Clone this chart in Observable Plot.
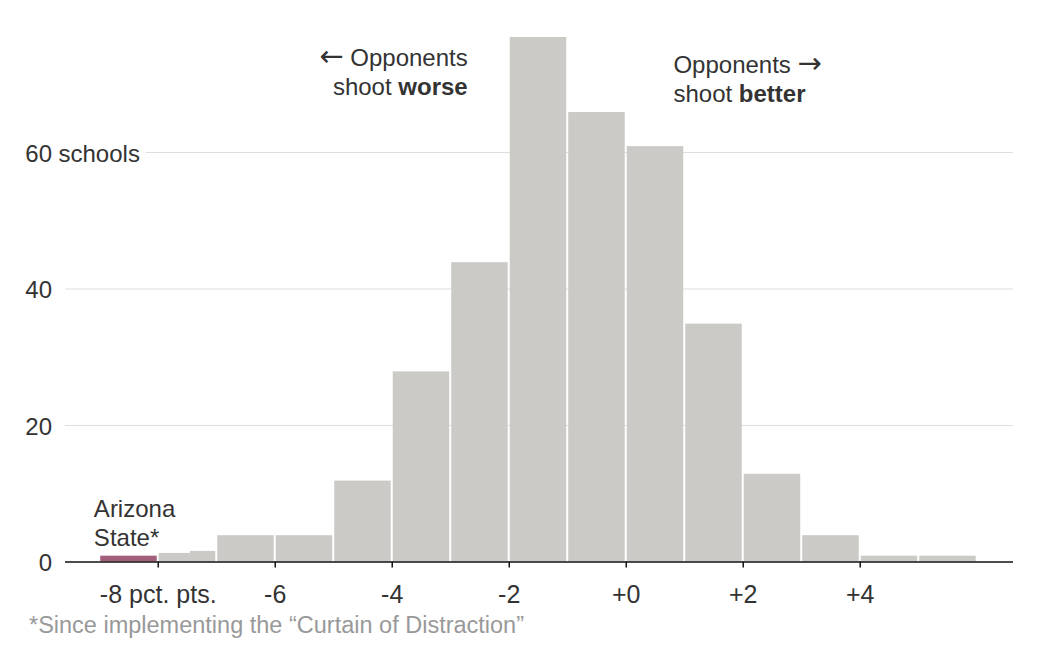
<!DOCTYPE html>
<html><head><meta charset="utf-8">
<script src="https://cdn.jsdelivr.net/npm/d3@7"></script>
<script src="https://cdn.jsdelivr.net/npm/@observablehq/plot@0.6"></script>
<style>
body{margin:0;background:#fff;font-family:"Liberation Sans",Arial,sans-serif;}
#caption{margin:0;padding-top:3px;padding-left:29px;font-size:23.5px;line-height:25px;color:#999;white-space:nowrap;}
</style></head><body>
<div id="chart"></div>
<div id="caption"></div>
<script>
// Histogram bins (percentage-point difference in opponents' free-throw shooting)
const binStart = [-8, -7.45, -7, -6, -5, -4, -3, -2, -1, 0, 1, 2, 3, 4, 5];
const binEnd   = [-7.45, -7, -6, -5, -4, -3, -2, -1, 0, 1, 2, 3, 4, 5, 6];
const counts   = [1.4, 1.7, 4, 4, 12, 28, 44, 77, 66, 61, 35, 13, 4, 1, 1];

// Highlighted school
const highlightStart = [-9];
const highlightEnd   = [-8];
const highlightCount = [1];
const highlightLabel = "Arizona\nState*";

// Axis ticks
const xTicks = [-8, -6, -4, -2, 0, 2, 4];
const xTickLabels = ["-8 pct. pts.", "-6", "-4", "-2", "+0", "+2", "+4"];
const yTicks = [0, 20, 40, 60];
const yTickLabels = ["0", "20", "40", "60"];
const yUnit = "schools";

const leftNote = "← Opponents\nshoot worse";
const rightNote = "Opponents →\nshoot better";
const captionText = "*Since implementing the “Curtain of Distraction”";

const bars = binStart.map((s, i) => ({x1: s, x2: binEnd[i], n: counts[i]}));
const hl = highlightStart.map((s, i) => ({x1: s, x2: highlightEnd[i], n: highlightCount[i]}));
const isInt = v => Number.isInteger(v);
const barsFull = bars.filter(d => isInt(d.x1) && isInt(d.x2));
const barsLeft = bars.filter(d => isInt(d.x1) && !isInt(d.x2));
const barsRight = bars.filter(d => !isInt(d.x1) && isInt(d.x2));

const GRAY = "#cbcac6";
const TEXT = "#333";
const FS = 24;

const rectOpts = {x1: "x1", x2: "x2", y1: 0, y2: "n", fill: GRAY, insetTop: 1};

const svg = Plot.plot({
  width: 1062,
  height: 610,
  marginLeft: 65,
  marginRight: 49,
  marginTop: 0,
  marginBottom: 48.5,
  style: {fontFamily: '"Liberation Sans", Arial, sans-serif', fontSize: FS + "px", color: TEXT, background: "#fff"},
  x: {domain: [-9.585, 6.62]},
  y: {domain: [0, 82.27], axis: null},
  marks: [
    Plot.ruleY(yTicks.filter(d => d > 0), {stroke: "#dedede", strokeWidth: 1}),
    Plot.rect(barsFull, {...rectOpts, insetLeft: 1, insetRight: 1}),
    Plot.rect(barsLeft, {...rectOpts, insetLeft: 1, insetRight: 0}),
    Plot.rect(barsRight, {...rectOpts, insetLeft: 0, insetRight: 1}),
    Plot.rect(hl, {...rectOpts, fill: "#a35e7b", insetLeft: 1, insetRight: 1}),
    Plot.ruleY([0], {stroke: "#111", strokeWidth: 1.3}),
    Plot.axisX({ticks: xTicks, tickFormat: d => xTickLabels[xTicks.indexOf(d)], tickSize: 6, tickPadding: 17, fontSize: 25, stroke: "#111", strokeWidth: 1.5, fill: TEXT}),
    Plot.text([yUnit], {y: () => yTicks[yTicks.length - 1], text: d => d, frameAnchor: "left", textAnchor: "start", dx: -7, dy: 1.5, fontSize: FS, fill: TEXT, stroke: "white", strokeWidth: 13, paintOrder: "stroke"}),
    Plot.text(yTicks, {y: d => d, text: (d, i) => yTickLabels[i], frameAnchor: "left", textAnchor: "end", dx: -13.5, dy: 1.5, fontSize: FS, fill: TEXT}),
    Plot.text([highlightLabel], {x: () => -9.1, y: () => 5.86, text: d => d, textAnchor: "start", lineHeight: 1.2, fontSize: FS, fill: TEXT}),
    Plot.text([leftNote], {x: () => -2.71, y: () => 71.9, text: d => d, textAnchor: "end", lineHeight: 1.2, fontSize: FS, fill: TEXT}),
    Plot.text([rightNote], {x: () => 0.807, y: () => 70.9, text: d => d, textAnchor: "start", lineHeight: 1.2, fontSize: FS, fill: TEXT})
  ]
});

// Mixed weights and wide arrow glyphs inside the annotation lines
d3.select(svg).selectAll("tspan").each(function() {
  const t = this.textContent;
  const sel = d3.select(this);
  if (t === "shoot worse" || t === "shoot better") {
    const w = t.split(" ")[1];
    this.textContent = "shoot ";
    sel.append("tspan").attr("font-weight", "bold").text(w);
  } else if (t === "← Opponents") {
    this.textContent = "";
    sel.append("tspan").attr("font-family", "DejaVu Sans").attr("font-size", 29).text("←");
    sel.append("tspan").text(" Opponents");
  } else if (t === "Opponents →") {
    this.textContent = "Opponents ";
    sel.append("tspan").attr("font-family", "DejaVu Sans").attr("font-size", 29).text("→");
  }
});

document.getElementById("chart").appendChild(svg);
document.getElementById("caption").textContent = captionText;
</script>
</body></html>
